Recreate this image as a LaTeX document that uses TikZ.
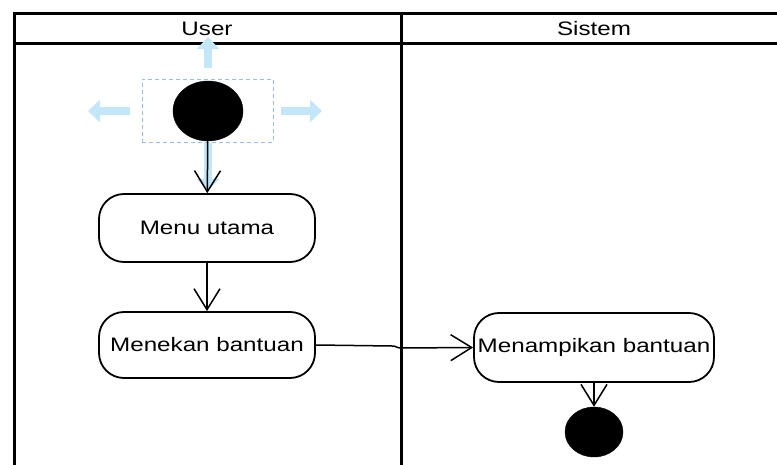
\documentclass[tikz,border=0pt]{standalone}
\usepackage{fontspec}
\setmainfont{Liberation Sans}[FakeStretch=1.24]
\usetikzlibrary{arrows.meta,shapes.geometric}
\definecolor{hintblue}{RGB}{196,230,249}
\definecolor{selblue}{RGB}{150,190,240}
\begin{document}
\begin{tikzpicture}[x=1pt,y=-1pt,
  font=\fontsize{19.5}{23}\selectfont,
  lane/.style={line width=3pt},
  act/.style={draw, line width=1.8pt, rounded corners=25pt, minimum height=68pt, inner sep=0pt, align=center},
  flow/.style={line width=1.5pt, -{Straight Barb[length=21pt,width=26pt]}},
  hint/.style={line width=8pt, draw=hintblue, -{Triangle[length=12pt,width=22pt]}},
  blob/.style={ellipse, draw, fill=black, inner sep=0pt}]
\useasboundingbox (0,0) rectangle (777,465);
% swimlanes
\draw[lane] (14,465) -- (14,14) -- (780,14);
\draw[lane] (14,44) -- (780,44);
\draw[lane] (401,14) -- (401,465);
\node (huser) at (207,29) {User};
\node (hsis) at (594,29) {Sistem};
% start and selection hint
\node[blob, minimum width=70pt, minimum height=60pt] (start) at (208,111) {};
\node[draw=selblue, dash pattern=on 4pt off 3pt, line width=0.9pt, minimum width=131pt, minimum height=63pt, inner sep=0pt] (sel) at (207.5,111) {};
\coordinate (upS) at (208,68);  \coordinate (upE) at (208,37);
\coordinate (lS) at (130,111);  \coordinate (lE) at (88,111);
\coordinate (rS) at (281,111);  \coordinate (rE) at (322,111);
\coordinate (dS) at (208,143);  \coordinate (dE) at (208,191);
\draw[hint] (upS) -- (upE);
\draw[hint] (lS) -- (lE);
\draw[hint] (rS) -- (rE);
\draw[hint] (dS) -- (dE);
% activities
\node[act, minimum width=216pt] (menu) at (207,228) {Menu utama};
\node[act, minimum width=216pt, minimum height=66pt] (tekan) at (207,345) {Menekan bantuan};
\node[act, minimum width=240pt, minimum height=69pt] (tampil) at (594,347.5) {Menampikan bantuan};
\node[blob, minimum width=58pt, minimum height=50pt] (end) at (594,432) {};
% flows
\draw[flow] (start) -- (menu);
\draw[flow] (menu) -- (tekan);
\coordinate (j1) at (392,346);
\coordinate (j2) at (401,348);
\draw[flow] (tekan.east) -- (j1) .. controls (397,346) and (396,348) .. (j2) -- (tampil.west);
\draw[flow] (tampil) -- (end);
\end{tikzpicture}
\end{document}
